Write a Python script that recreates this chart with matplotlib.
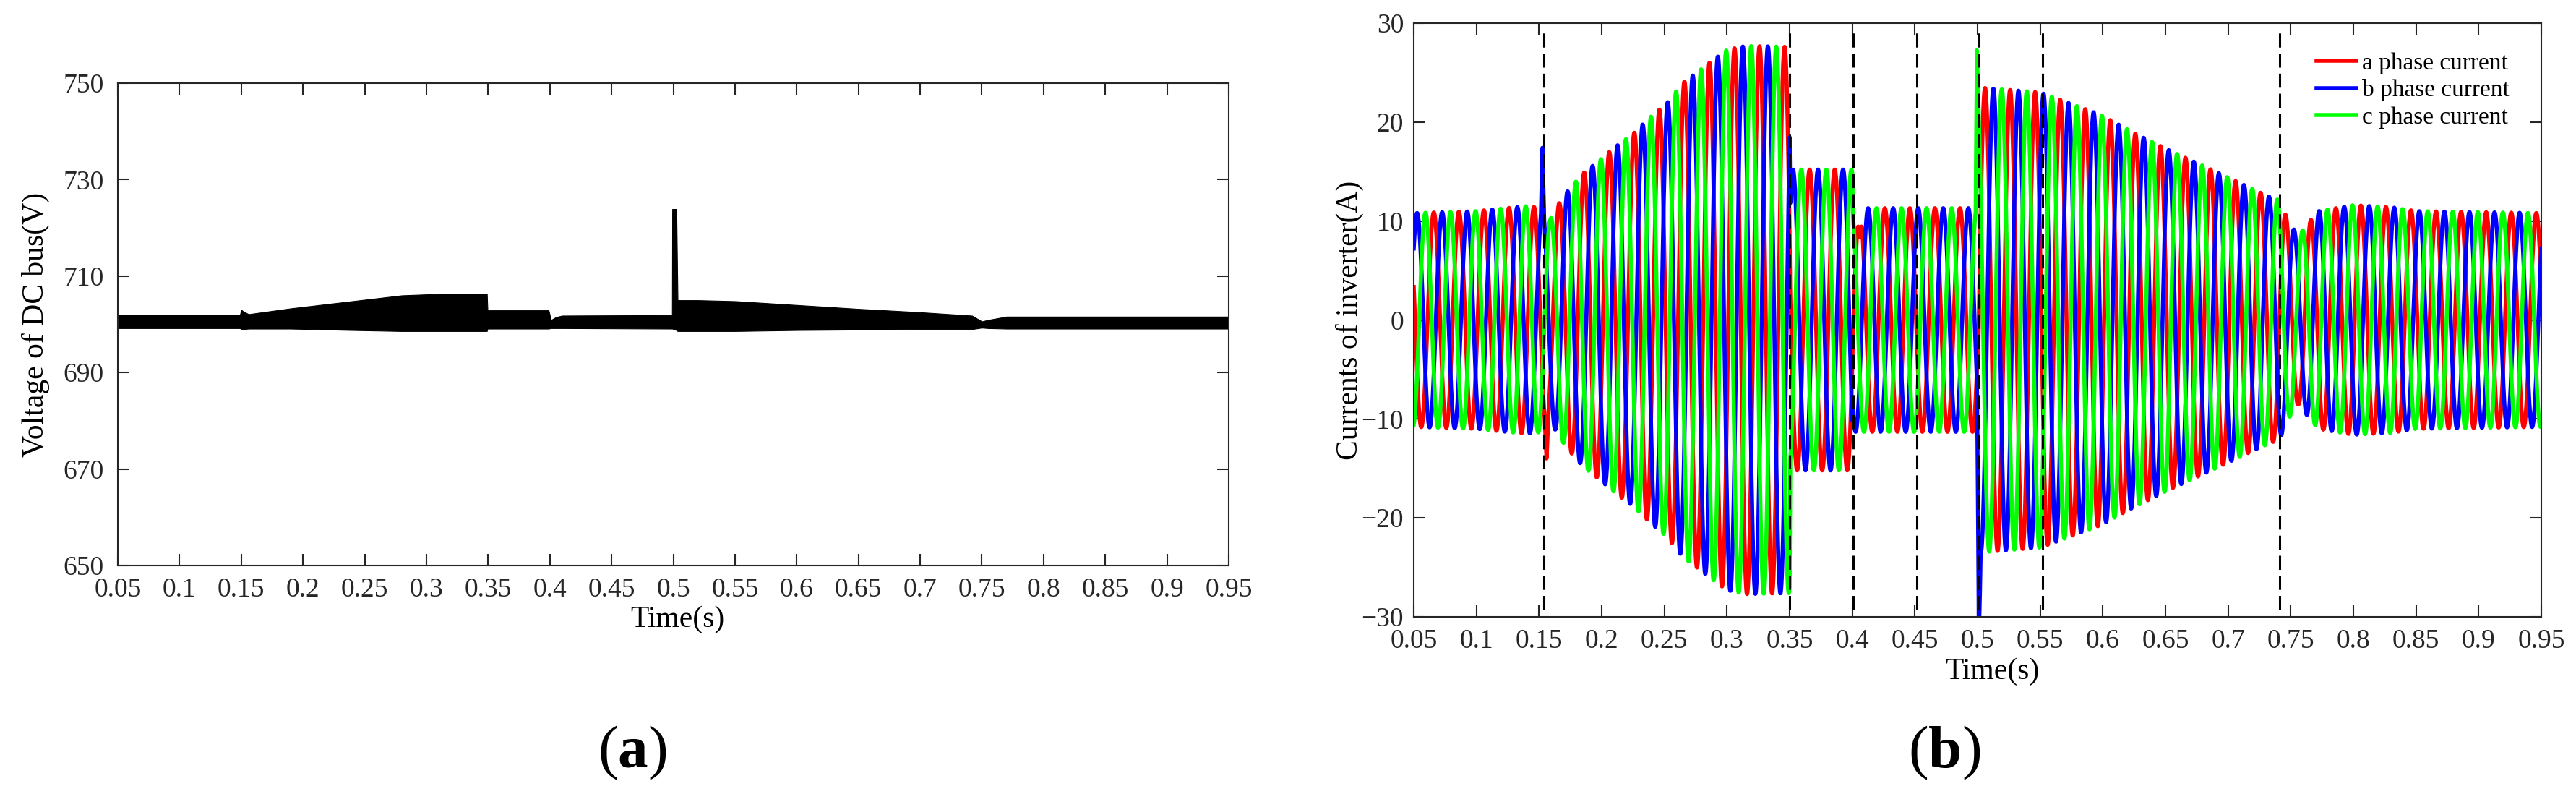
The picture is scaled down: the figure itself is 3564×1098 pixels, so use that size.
import numpy as np
import matplotlib
matplotlib.use("Agg")
import matplotlib.pyplot as plt

plt.rcParams['font.family'] = ['Liberation Serif', 'DejaVu Serif']
plt.rcParams['mathtext.fontset'] = 'custom'
plt.rcParams['mathtext.rm'] = 'Liberation Serif'
plt.rcParams['mathtext.bf'] = 'Liberation Serif:bold'
plt.rcParams['lines.scale_dashes'] = False

# ---- (a) DC bus voltage: upper / lower edge of the ripple band ----
dc_t = [0.05, 0.149, 0.150, 0.152, 0.156, 0.19, 0.24, 0.28, 0.31, 0.349, 0.3495,
        0.399, 0.401, 0.405, 0.41, 0.499, 0.4992, 0.5025, 0.5035, 0.52, 0.55, 0.6,
        0.65, 0.7, 0.742, 0.75, 0.755, 0.77, 0.95]
dc_upper = [702.0, 702.0, 703.0, 702.6, 702.1, 703.3, 704.8, 706.0, 706.3, 706.3, 702.9,
            702.9, 700.9, 701.5, 701.8, 701.9, 723.9, 723.9, 705.0, 705.0, 704.8, 704.0,
            703.2, 702.5, 701.8, 700.6, 700.9, 701.6, 701.6]
dc_lower = [699.2, 699.2, 699.0, 699.0, 699.1, 699.1, 698.8, 698.6, 698.6, 698.6, 699.1,
            699.1, 699.2, 699.2, 699.2, 699.1, 699.1, 698.8, 698.6, 698.6, 698.6, 698.8,
            698.9, 699.0, 699.0, 699.3, 699.2, 699.1, 699.1]

# ---- (b) inverter currents: peak envelope (A) ----
freq = 50.0
t_peak_a = 0.066   # a phase crest time
cur_t = [0.05, 0.10, 0.14, 0.1535, 0.159, 0.165, 0.172, 0.185, 0.198, 0.211, 0.225,
         0.238, 0.252, 0.265, 0.278, 0.286, 0.30, 0.315, 0.35, 0.3505, 0.40, 0.4005,
         0.4999, 0.5005, 0.55, 0.598, 0.625, 0.652, 0.678, 0.705, 0.732, 0.741, 0.748,
         0.756, 0.764, 0.772, 0.80, 0.83, 0.85, 0.95]
cur_amp = [10.8, 11.0, 11.5, 11.3, 10.2, 11.6, 12.9, 14.8, 16.1, 17.5, 18.8,
           20.4, 21.9, 24.0, 25.2, 26.0, 27.3, 27.7, 27.6, 15.2, 15.2, 11.3,
           11.3, 23.5, 23.0, 20.75, 18.9, 17.2, 15.7, 14.1, 12.5, 12.1, 10.0,
           8.5, 9.8, 11.0, 11.6, 11.4, 11.0, 10.8]

# single-phase transients: phase index, start, crest time, end, crest value
tr_phase = [1, 0, 0, 2, 1]
tr_t0 = [0.1515, 0.1545, 0.404, 0.4985, 0.4995]
tr_tp = [0.1527, 0.156, 0.406, 0.4995, 0.501]
tr_t1 = [0.1540, 0.1575, 0.408, 0.5008, 0.5025]
tr_amp = [17.4, 14.0, 8.4, 27.3, 36.0]

event_t = [0.154, 0.35, 0.401, 0.4515, 0.501, 0.552, 0.741]

phase_names = ['a phase current', 'b phase current', 'c phase current']
phase_colors = ['#FF0000', '#0000FF', '#00FF00']

x_ticks = np.arange(0.05, 0.951, 0.05)
x_labels = [f'{v:g}' for v in np.round(x_ticks, 2)]

fig = plt.figure(figsize=(35.64, 10.98), dpi=100)
W, H = 3564.0, 1098.0
ax1 = fig.add_axes([163 / W, 1 - 782 / H, 1537 / W, 667 / H])
ax2 = fig.add_axes([1956 / W, 1 - 853 / H, 1560 / W, 821 / H])

ax1.fill_between(dc_t, dc_lower, dc_upper, color='k', lw=0.8)
ax1.set_ylim(650, 750)
ax1.set_yticks([650, 670, 690, 710, 730, 750])
ax1.set_ylabel('Voltage of DC bus(V)', fontsize=30)
ax1.yaxis.set_label_coords(-0.061, 0.5)
ax1.set_xlabel('Time(s)', fontsize=30)
ax1.xaxis.set_label_coords(0.5036, -0.083)

t = np.arange(0.05, 0.95 + 1e-9, 1e-5)
base_env = np.interp(t, cur_t, cur_amp)
for k in range(3):
    env = base_env.copy()
    for i in range(len(tr_phase)):
        if tr_phase[i] != k:
            continue
        m = (t >= tr_t0[i]) & (t <= tr_t1[i])
        e0 = np.interp(tr_t0[i], cur_t, cur_amp)
        e1 = np.interp(tr_t1[i], cur_t, cur_amp)
        env[m] = np.interp(t[m], [tr_t0[i], tr_tp[i], tr_t1[i]], [e0, tr_amp[i], e1])
    y = env * np.cos(2 * np.pi * freq * (t - t_peak_a - k / (3 * freq)))
    ax2.plot(t, y, color=phase_colors[k], lw=4, label=phase_names[k])

ax2.vlines(event_t, -29.3, 29.6, colors='k', linestyles=(0, (14, 6)), lw=2.2, zorder=5)
ax2.set_ylim(-30, 30)
ax2.set_yticks(np.arange(-30, 31, 10))
ax2.set_ylabel('Currents of inverter(A)', fontsize=30)
ax2.yaxis.set_label_coords(-0.044, 0.5)
ax2.set_xlabel('Time(s)', fontsize=30)
ax2.xaxis.set_label_coords(0.513, -0.0694)
ax2.legend(loc='upper left', bbox_to_anchor=(0.8006, 0.951), frameon=False,
           borderpad=0, borderaxespad=0, handlelength=1.65, handletextpad=0.25,
           labelspacing=0.2, fontsize=24)

for ax, pad in [(ax1, 14), (ax2, 10)]:
    ax.set_xlim(0.05, 0.95)
    ax.set_xticks(x_ticks)
    ax.set_xticklabels(x_labels)
    ax.tick_params(axis='both', direction='in', length=11.5, width=1.5, top=True,
                   right=True, labelsize=27, colors='#262626')
    ax.tick_params(axis='x', pad=12)
    ax.tick_params(axis='y', pad=pad)
    for s in ax.spines.values():
        s.set_linewidth(1.5)
        s.set_color('#262626')

fig.text(875 / W, 1 - 1041 / H, r'$\mathrm{(}\mathbf{a}\mathrm{)}$', fontsize=60,
         ha='center', va='center')
fig.text(2690 / W, 1 - 1041 / H, r'$\mathrm{(}\mathbf{b}\mathrm{)}$', fontsize=60,
         ha='center', va='center')

fig.savefig('out.png', dpi=100)
